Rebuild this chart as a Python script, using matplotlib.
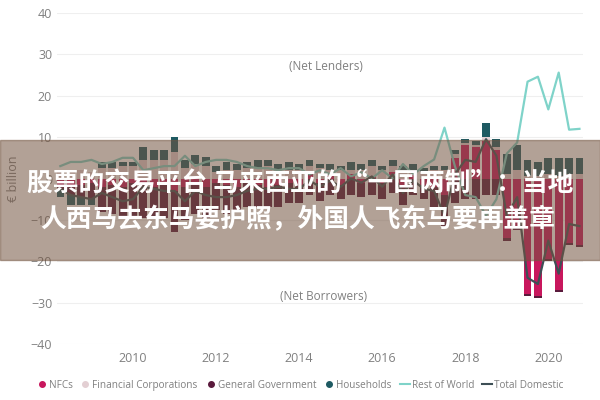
import numpy as np
import matplotlib.pyplot as plt
from matplotlib.lines import Line2D

# quarterly, 2008Q2 .. 2020Q4 (plotted at quarter end)
quarters = 2008.25 + 0.25*np.arange(51)

nfc = [-1.5, -2, -1.5, -1,
       -2, -1.5, -2, -1, -1.5, -2, -1.5, -3, -2, -1.5, -2, -1, -1.5, -2, -1, -1.5, -2, -1.5, -1, -1.5,
       1, -1, 0.5, -1.5, 1, -1, 0.5, -1, 1.5, -2, 1, -1.5, -2,
       -4, 5, 8, 7.5, 9, 7, -14.5, -12, -28, -28.5, -19.5, -27, -15.5, -16]
fin_corp = [2, 1.5, 2, 1.5,
            2.5, 2.5, 3, 3, 4.5, 4.5, 4.5, 6.5, 2.5, 3.5, 3, 1.5, 2, 2, 2.5, 2.5, 3, 2, 2, 2,
            2, 2.5, 1.5, 2, 1, 2, 2.5, 2, 1.5, 2, 1, 1.5, 2,
            2, 1, 0.5, 0.5, 1, 0.5, 1, 2, 0.5, 0.5, 1, 0.5, 1, 1]
gen_gov = [-1, -2, -3, -4,
           -6, -7, -7.5, -8, -8, -7.5, -8, -10, -8, -7, -7.5, -6.5, -7, -6, -6, -5.5, -5, -5.5, -5, -4.5,
           -4, -4.5, -4, -3.5, -4, -3.5, -4, -4, -3.5, -4.5, -4, -3.5, -5,
           -8, -6, -5, -5, -4, -4, -0.5, -0.5, -0.5, -0.5, -0.5, -0.5, -0.5, -0.5]
households = [-2, -2.5, -2, -1.5,
              1.5, 1.5, 1, 1, 3, 2.5, 2.5, 3.5, 2, 2.3, 2.3, 1.5, 2, 1.5, 1.5, 2, 1.5, 1.5, 2, 1.5,
              1.5, 1, 1.5, 1, 2, 1.5, 1.5, 1, 1.5, 1, 1.5, 1, 1,
              1, 1, 1, 1, 3.5, 2, 5, 6, 4, 3.5, 4, 4.5, 4, 4]
rest_of_world = [3, 4, 4, 4.5,
                 3.5, 4, 5, 5, 2, 2.5, 3, 3, 5.5, 3, 4, 4.5, 4.5, 4, 3, 2.5, 2.5, 2, 2.5, 2.5,
                 1, 2, 1, 2.5, 0.5, 1.5, 0, 2, 0, 3.5, 1, 3, 4.6,
                 12.3, 3, -4, -4.5, -9, -5, 6, 8.7, 23.4, 24.6, 16.7, 25.6, 11.8, 12]
total_domestic = [-2.5, -4, -4.5, -5,
                  -3.5, -4.5, -5.5, -5, -2, -2.5, -3, -3, -5.5, -3, -4, -4.5, -4.5, -4, -3, -2.5, -2.5, -2, -2.5, -2.5,
                  -0.5, -2, -0.5, -2, 0, -1, 0.5, -2, 1, -3.5, -0.5, -2.5, -3,
                  -9, 1, 4.5, 4, 9.5, 5.5, -9, -4.5, -24, -25.5, -15, -23, -11, -11.5]

series = [('NFCs', nfc, '#c8175d'),
          ('Financial Corporations', fin_corp, '#e3cfd3'),
          ('General Government', gen_gov, '#5a1a3c'),
          ('Households', households, '#1e5a62')]

plt.rcParams['font.family'] = ['Open Sans', 'DejaVu Sans']
fig = plt.figure(figsize=(6, 4), dpi=100)
ax = fig.add_axes([0.095, 0.14, 0.877, 0.8275])

pos_base = np.zeros(len(quarters))
neg_base = np.zeros(len(quarters))
for name, vals, col in series:
    v = np.array(vals, dtype=float)
    bottom = np.where(v >= 0, pos_base, neg_base)
    ax.bar(quarters, v, width=0.19, bottom=bottom, color=col, zorder=2)
    pos_base += np.clip(v, 0, None)
    neg_base += np.clip(v, None, 0)

ax.plot(quarters, rest_of_world, color='#7fd3c9', lw=1.6, zorder=3)
ax.plot(quarters, total_domestic, color='#3d4f55', lw=1.6, zorder=3)

ax.set_xlim(2008.17, 2020.84)
ax.set_ylim(-40, 40)
ax.set_yticks(range(-40, 41, 10))
ax.set_xticks(range(2010, 2021, 2))
ax.grid(axis='y', color='#efefef', lw=0.8, zorder=0)
for s in ax.spines.values():
    s.set_visible(False)
ax.tick_params(length=0, labelsize=9, labelcolor='#808080')
ax.tick_params(axis='x', pad=6)
ax.set_ylabel('€ billion', color='#808080', fontsize=9, labelpad=8)
ax.text(2014.65, 27, '(Net Lenders)', color='#808080', fontsize=8.5, ha='center', va='center')
ax.text(2014.6, -28.5, '(Net Borrowers)', color='#808080', fontsize=8.5, ha='center', va='center')

handles = [Line2D([], [], marker='o', ls='', color=c, markersize=4) for _, _, c in series]
handles += [Line2D([], [], color='#7fd3c9', lw=1.5), Line2D([], [], color='#3d4f55', lw=1.5)]
labels = [n for n, _, _ in series] + ['Rest of World', 'Total Domestic']
fig.legend(handles, labels, loc='center', bbox_to_anchor=(0.5, 0.037), ncol=6, frameon=False,
           fontsize=7.2, handlelength=1.0, handletextpad=0.2, columnspacing=0.8,
           labelcolor='#808080')

# overlay banner with headline
fig.patches.append(plt.Rectangle((0, 0.35), 1, 0.30, transform=fig.transFigure,
                                 color=(0.45, 0.33, 0.25), alpha=0.55, zorder=5))
cjk = ['Noto Sans CJK SC', 'DejaVu Sans']
fig.text(0.5, 0.543, '股票的交易平台 马来西亚的“一国两制”：当地', color='white', fontsize=18.5,
         fontweight='bold', family=cjk, ha='center', va='center', zorder=6)
fig.text(0.497, 0.45, '人西马去东马要护照，外国人飞东马要再盖章', color='white', fontsize=18.5,
         fontweight='bold', family=cjk, ha='center', va='center', zorder=6)

fig.savefig('out.png', dpi=100)
